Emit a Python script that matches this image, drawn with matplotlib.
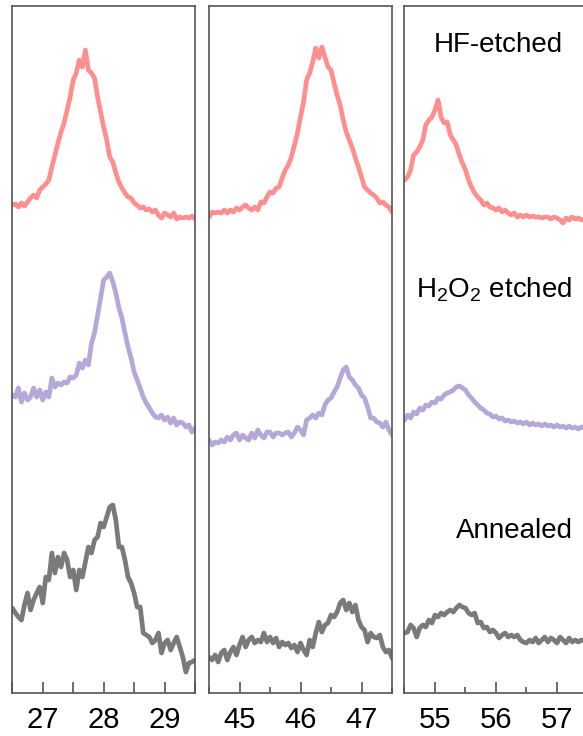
#!/usr/bin/env python
# -*- coding:utf-8 -*-
# XRD peaks of Si nanocrystals: annealed / H2O2 etched / HF-etched, three 2theta windows
import matplotlib
matplotlib.use('Agg')
import matplotlib.pyplot as plt
from matplotlib.ticker import MultipleLocator

plt.rcParams['font.family'] = ['Liberation Sans', 'DejaVu Sans']
plt.rcParams['mathtext.fontset'] = 'custom'
plt.rcParams['mathtext.rm'] = 'Liberation Sans'
plt.rcParams['mathtext.it'] = 'Liberation Sans:italic'

# --- 2theta sampling (deg) for each window --- #
two_theta_111 = [26.50, 26.55, 26.60, 26.65, 26.70, 26.75, 26.80, 26.85, 26.90, 26.95,
                 27.00, 27.05, 27.10, 27.15, 27.20, 27.25, 27.30, 27.35, 27.40, 27.45,
                 27.50, 27.55, 27.60, 27.65, 27.70, 27.75, 27.80, 27.85, 27.90, 27.95,
                 28.00, 28.05, 28.10, 28.15, 28.20, 28.25, 28.30, 28.35, 28.40, 28.45,
                 28.50, 28.55, 28.60, 28.65, 28.70, 28.75, 28.80, 28.85, 28.90, 28.95,
                 29.00, 29.05, 29.10, 29.15, 29.20, 29.25, 29.30, 29.35, 29.40, 29.45, 29.50]
two_theta_220 = [44.50, 44.55, 44.60, 44.65, 44.70, 44.75, 44.80, 44.85, 44.90, 44.95,
                 45.00, 45.05, 45.10, 45.15, 45.20, 45.25, 45.30, 45.35, 45.40, 45.45,
                 45.50, 45.55, 45.60, 45.65, 45.70, 45.75, 45.80, 45.85, 45.90, 45.95,
                 46.00, 46.05, 46.10, 46.15, 46.20, 46.25, 46.30, 46.35, 46.40, 46.45,
                 46.50, 46.55, 46.60, 46.65, 46.70, 46.75, 46.80, 46.85, 46.90, 46.95,
                 47.00, 47.05, 47.10, 47.15, 47.20, 47.25, 47.30, 47.35, 47.40, 47.45, 47.50]
two_theta_311 = [54.50, 54.55, 54.60, 54.65, 54.70, 54.75, 54.80, 54.85, 54.90, 54.95,
                 55.00, 55.05, 55.10, 55.15, 55.20, 55.25, 55.30, 55.35, 55.40, 55.45,
                 55.50, 55.55, 55.60, 55.65, 55.70, 55.75, 55.80, 55.85, 55.90, 55.95,
                 56.00, 56.05, 56.10, 56.15, 56.20, 56.25, 56.30, 56.35, 56.40, 56.45,
                 56.50, 56.55, 56.60, 56.65, 56.70, 56.75, 56.80, 56.85, 56.90, 56.95,
                 57.00, 57.05, 57.10, 57.15, 57.20, 57.25, 57.30, 57.35, 57.40, 57.45, 57.50]

# --- intensities (a.u., already stacked with offsets) --- #
hf_111 = [488, 489, 486, 490, 487, 491, 495, 498, 495, 503, 506, 509, 513, 526, 538, 550,
          561, 570, 583, 596, 613, 620, 633, 626, 643, 623, 620, 615, 596, 581, 566, 553,
          536, 531, 520, 511, 505, 500, 496, 495, 490, 488, 485, 486, 483, 484, 481, 483,
          478, 475, 480, 478, 476, 480, 474, 476, 475, 476, 475, 477, 474]
h2o2_111 = [298, 296, 305, 291, 300, 293, 296, 305, 296, 303, 293, 301, 296, 315, 306, 310,
            308, 311, 310, 316, 315, 318, 330, 325, 333, 328, 350, 360, 378, 395, 413, 416,
            420, 411, 400, 385, 375, 360, 346, 335, 321, 313, 305, 296, 290, 285, 280, 276,
            275, 278, 273, 276, 270, 275, 268, 271, 270, 266, 268, 261, 265]
annealed_111 = [85, 80, 76, 73, 88, 100, 83, 93, 100, 106, 90, 116, 113, 140, 120, 136,
                126, 140, 133, 116, 123, 103, 123, 116, 131, 146, 140, 153, 156, 170, 166, 176,
                186, 188, 173, 146, 146, 133, 116, 110, 100, 86, 86, 60, 58, 56, 50, 53,
                60, 40, 50, 53, 43, 50, 56, 46, 36, 21, 30, 31, 33]

hf_220 = [476, 481, 480, 481, 480, 483, 480, 483, 481, 485, 483, 486, 488, 485, 483, 486,
          483, 491, 490, 496, 501, 500, 505, 506, 515, 523, 528, 536, 548, 560, 576, 591,
          613, 620, 631, 645, 635, 646, 636, 626, 623, 610, 598, 588, 573, 561, 553, 545,
          535, 526, 516, 506, 503, 500, 498, 495, 490, 491, 488, 486, 481]
h2o2_220 = [253, 248, 251, 250, 253, 251, 256, 253, 258, 260, 253, 258, 255, 253, 260, 255,
            263, 258, 255, 261, 261, 256, 260, 260, 258, 260, 261, 256, 260, 266, 263, 258,
            273, 275, 278, 275, 280, 278, 288, 293, 295, 301, 306, 315, 323, 326, 316, 313,
            308, 305, 298, 295, 286, 275, 275, 271, 270, 266, 271, 263, 258]
annealed_220 = [36, 33, 38, 31, 40, 43, 33, 41, 46, 38, 48, 56, 46, 53, 56, 50,
                53, 51, 60, 51, 56, 50, 55, 46, 51, 48, 50, 45, 48, 41, 50, 43,
                38, 53, 46, 60, 71, 61, 68, 70, 78, 76, 81, 90, 93, 83, 90, 81,
                88, 73, 66, 63, 51, 60, 56, 55, 58, 46, 41, 43, 35]

hf_311 = [513, 516, 523, 538, 541, 546, 553, 568, 573, 576, 583, 593, 576, 570, 571, 558,
          553, 548, 538, 530, 523, 513, 506, 500, 496, 493, 488, 490, 486, 485, 483, 485,
          481, 483, 480, 478, 480, 476, 478, 476, 478, 476, 477, 476, 476, 475, 476, 476,
          474, 476, 475, 473, 470, 475, 473, 476, 474, 475, 473, 474, 475]
h2o2_311 = [273, 278, 275, 281, 279, 285, 283, 288, 287, 291, 290, 295, 294, 298, 300, 301,
            303, 306, 307, 305, 303, 298, 295, 291, 288, 285, 283, 280, 279, 276, 277, 274,
            275, 272, 273, 271, 272, 270, 271, 269, 271, 268, 270, 268, 269, 267, 269, 267,
            268, 266, 268, 266, 267, 265, 267, 265, 266, 264, 266, 265, 266]
annealed_311 = [60, 61, 68, 65, 56, 65, 68, 66, 73, 70, 78, 76, 80, 78, 81, 83,
                81, 85, 88, 86, 85, 80, 78, 80, 70, 71, 65, 66, 61, 63, 60, 55,
                58, 60, 56, 58, 56, 58, 53, 51, 50, 53, 51, 55, 50, 53, 56, 51,
                55, 53, 50, 56, 53, 50, 55, 51, 53, 51, 53, 52, 51]

windows = [(26.5, 29.5), (44.5, 47.5), (54.5, 57.5)]
major_ticks = [[27, 28, 29], [45, 46, 47], [55, 56, 57]]
sample_labels = ['HF-etched', r'$\mathregular{H_2O_2}$ etched', 'Annealed']

color_hf = '#ff8f8f'
color_h2o2 = '#b5a8d8'
color_annealed = '#7a7a7a'


def style_axis(ax, xlim, ticks, minor_long=False):
    ax.set_xlim(*xlim)
    ax.set_ylim(0, 687.5)
    ax.set_yticks([])
    ax.set_xticks(ticks)
    ax.xaxis.set_minor_locator(MultipleLocator(0.5))
    ax.tick_params(axis='x', which='major', direction='in', length=8, width=1.2,
                   color='#555555', labelsize=21, pad=9)
    ax.tick_params(axis='x', which='minor', direction='in',
                   length=8 if minor_long else 4, width=1.2, color='#555555')
    for side in ['left', 'right', 'top', 'bottom']:
        ax.spines[side].set_color('#555555')
        ax.spines[side].set_linewidth(1.2)


if __name__ == '__main__':
    fig = plt.figure(figsize=(5.83, 7.36), dpi=100)
    # --- panel positions (the right one runs past the figure edge, as in the source) --- #
    positions = [[0.0211, 0.0584, 0.3134, 0.9341],
                 [0.3585, 0.0584, 0.3139, 0.9341],
                 [0.6938, 0.0584, 0.3139, 0.9341]]
    x_data = [two_theta_111, two_theta_220, two_theta_311]
    y_data = [[hf_111, h2o2_111, annealed_111],
              [hf_220, h2o2_220, annealed_220],
              [hf_311, h2o2_311, annealed_311]]
    colors = [color_hf, color_h2o2, color_annealed]

    axes = []
    for k in range(3):
        ax = fig.add_axes(positions[k])
        for series, c in zip(y_data[k], colors):
            ax.plot(x_data[k], series, c=c, lw=3.4, solid_joinstyle='round',
                    solid_capstyle='round')
        style_axis(ax, windows[k], major_ticks[k], minor_long=(k == 0))
        axes.append(ax)

    # --- sample names in the last panel --- #
    ax3 = axes[2]
    ax3.text(57.10, 648, sample_labels[0], ha='right', va='center', fontsize=20)
    ax3.text(57.25, 403, sample_labels[1], ha='right', va='center', fontsize=20)
    ax3.text(57.26, 162, sample_labels[2], ha='right', va='center', fontsize=20)

    fig.savefig('out.png', dpi=100)
